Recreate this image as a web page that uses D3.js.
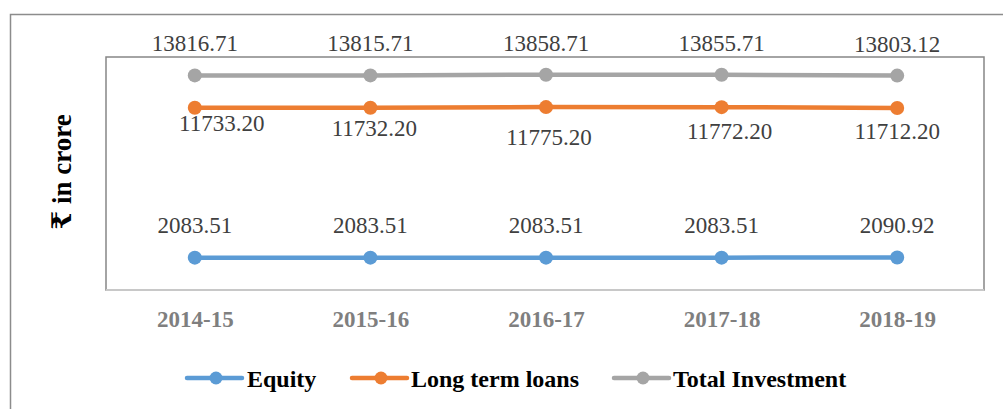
<!DOCTYPE html>
<html>
<head>
<meta charset="utf-8">
<script src="https://cdn.jsdelivr.net/npm/d3@7"></script>
<style>
  body { margin: 0; background: #fff; }
  svg { display: block; }
  text { font-family: "Liberation Serif", "Tinos", "DejaVu Serif", serif; }
  .val { font-size: 23px; fill: #404040; }
  .cat { font-size: 23px; font-weight: bold; fill: #7f7f7f; }
  .leg { font-size: 24px; font-weight: bold; fill: #000; }
  .ytitle { font-size: 27px; font-weight: bold; fill: #000; }
</style>
</head>
<body>
<div id="chart"></div>
<script>
// --- Data ---
const years = ["2014-15", "2015-16", "2016-17", "2017-18", "2018-19"];
const equity = [2083.51, 2083.51, 2083.51, 2083.51, 2090.92];
const loans = [11733.20, 11732.20, 11775.20, 11772.20, 11712.20];
const totalInv = [13816.71, 13815.71, 13858.71, 13855.71, 13803.12];
const yDomain = [0, 15000];

const width = 1003, height = 409;
const plot = { left: 106, top: 57, right: 984, bottom: 290 };

const svg = d3.select("#chart").append("svg")
    .attr("width", width)
    .attr("height", height);

// outer chart border (runs off the right and bottom edges)
svg.append("rect")
    .attr("x", 10.5).attr("y", 14.5)
    .attr("width", 1100).attr("height", 500)
    .attr("fill", "none")
    .attr("stroke", "#8c8c8c")
    .attr("stroke-width", 1.5);

const x = d3.scalePoint()
    .domain(years)
    .range([plot.left + 1, plot.right + 1])
    .padding(0.5);

const y = d3.scaleLinear()
    .domain(yDomain)
    .range([plot.bottom, plot.top]);

// plot area box
svg.append("rect")
    .attr("x", plot.left).attr("y", plot.top)
    .attr("width", plot.right - plot.left)
    .attr("height", plot.bottom - plot.top)
    .attr("fill", "none")
    .attr("stroke", "#868686")
    .attr("stroke-width", 1.5);

// category axis (bottom line + labels)
const xAxis = svg.append("g")
    .attr("transform", `translate(0,${plot.bottom})`)
    .call(d3.axisBottom(x).tickSize(0).tickPadding(0));
xAxis.attr("font-family", null).attr("font-size", null);
xAxis.select(".domain")
    .attr("d", `M${plot.left},0H${plot.right}`)
    .attr("stroke", "#c8c8c8")
    .attr("stroke-width", 2);
xAxis.selectAll(".tick text")
    .attr("class", "cat")
    .attr("fill", null)
    .attr("y", 37)
    .attr("dy", null);

// y axis title
svg.append("text")
    .attr("class", "ytitle")
    .attr("transform", "translate(62,172) rotate(-90)")
    .attr("text-anchor", "middle")
    .attr("dominant-baseline", "central")
    .text("₹ in crore");

const series = [
    { name: "Equity", values: equity, color: "#5b9bd5", labelDy: -25 },
    { name: "Long term loans", values: loans, color: "#ed7d31", labelDy: 30 },
    { name: "Total Investment", values: totalInv, color: "#a5a5a5", labelDy: -24 }
];

// hand-placed label nudges for the loan labels, as in the source chart
const loanNudge = [[27, -7], [4, -2], [3, 8], [8, 2], [0, 1]];

const line = d3.line()
    .x((d, i) => x(years[i]))
    .y(d => y(d));

series.forEach((s, si) => {
    const g = svg.append("g");
    g.append("path")
        .datum(s.values)
        .attr("fill", "none")
        .attr("stroke", s.color)
        .attr("stroke-width", 4.5)
        .attr("d", line);

    g.selectAll("circle")
        .data(s.values)
        .join("circle")
        .attr("cx", (d, i) => x(years[i]))
        .attr("cy", d => y(d))
        .attr("r", 7)
        .attr("fill", s.color);

    g.selectAll("text")
        .data(s.values)
        .join("text")
        .attr("class", "val")
        .attr("text-anchor", "middle")
        .attr("x", (d, i) => x(years[i]) + (si === 1 ? loanNudge[i][0] : 0))
        .attr("y", (d, i) => y(d) + s.labelDy + (si === 1 ? loanNudge[i][1] : 0))
        .text(d => d3.format(".2f")(d));
});

// legend
const legendItems = [
    { x: 187, textX: 247 },
    { x: 352, textX: 411 },
    { x: 614, textX: 673 }
];
const legend = svg.append("g");
series.forEach((s, i) => {
    const lx = legendItems[i].x, ly = 378;
    legend.append("line")
        .attr("x1", lx).attr("x2", lx + 55)
        .attr("y1", ly).attr("y2", ly)
        .attr("stroke", s.color)
        .attr("stroke-width", 4.5)
        .attr("stroke-linecap", "round");
    legend.append("circle")
        .attr("cx", lx + 29).attr("cy", ly)
        .attr("r", 6.5)
        .attr("fill", s.color);
    legend.append("text")
        .attr("class", "leg")
        .attr("x", legendItems[i].textX)
        .attr("y", 387)
        .text(s.name);
});
</script>
</body>
</html>
